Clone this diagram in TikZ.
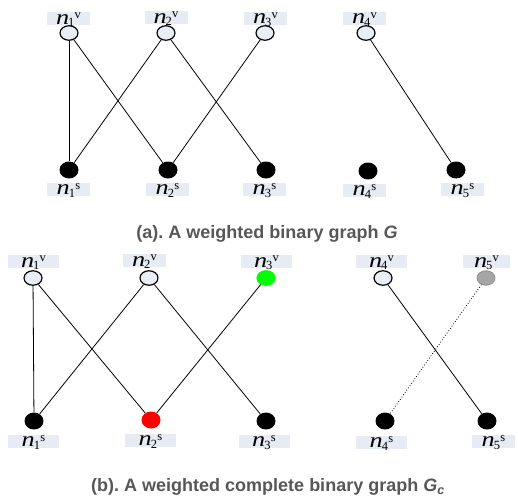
\documentclass[tikz,border=0pt]{standalone}
\usepackage{fontspec}
\usepackage{graphicx}
\setmainfont{Liberation Serif}
\newfontfamily\capfont{Liberation Sans}
\usetikzlibrary{shapes.geometric}
\frenchspacing
\definecolor{lblfill}{HTML}{E6EBF4}
\definecolor{vfill}{HTML}{E8EDF6}
\definecolor{capgray}{HTML}{575757}
% n_i^x label text: wide italic n, small upright index and type letter
\newcommand{\nlab}[2]{\raisebox{-5.5pt}[0pt][0pt]{%
  \scalebox{1.25}[1]{\fontsize{21}{21}\selectfont\itshape n}\hspace{-1pt}%
  {\fontsize{12.5}{12.5}\selectfont\raisebox{-2.5pt}{#1}\hspace{0.3pt}\raisebox{5.5pt}{#2}}}}
\tikzset{
  vnode/.style={ellipse,draw=black,line width=1.2pt,fill=vfill,minimum width=18pt,minimum height=14.5pt,inner sep=0pt},
  snode/.style={ellipse,fill=black,minimum width=19pt,minimum height=17pt,inner sep=0pt},
  gnode/.style={vnode,draw=green,fill=green},
  rnode/.style={snode,fill=red},
  greynode/.style={vnode,draw=gray!90,line width=0.8pt,fill=gray!70},
  lbox/.style={rectangle,fill=lblfill,minimum width=#1,minimum height=13pt,inner sep=0pt,text height=0pt,text depth=0pt},
  lbox/.default=43pt,
  edge/.style={draw=black,line width=0.8pt},
  dotedge/.style={draw=black,line width=0.8pt,dotted},
  caption/.style={text=capgray,font=\capfont\bfseries\fontsize{18}{20}\selectfont,inner sep=0pt}
}
\begin{document}
\begin{tikzpicture}[x=1pt,y=-1pt]
\useasboundingbox (0,0) rectangle (518,497);

% ---- (a) weighted binary graph G ----
\node[lbox] (av1l) at (68.5,19) {\nlab{1}{v}};
\node[lbox] (av2l) at (166,18) {\nlab{2}{v}};
\node[lbox] (av3l) at (265.5,18.5) {\nlab{3}{v}};
\node[lbox] (av4l) at (364.5,18.5) {\nlab{4}{v}};
\node[lbox] (as1l) at (68.5,189) {\nlab{1}{s}};
\node[lbox] (as2l) at (167.5,189) {\nlab{2}{s}};
\node[lbox] (as3l) at (264.5,189) {\nlab{3}{s}};
\node[lbox] (as4l) at (364.5,190) {\nlab{4}{s}};
\node[lbox] (as5l) at (462.5,189) {\nlab{5}{s}};

\node[vnode] (av1) at (69,33) {};
\node[vnode] (av2) at (166,33) {};
\node[vnode] (av3) at (265,33) {};
\node[vnode] (av4) at (366,33) {};
\node[snode] (as1) at (69,170) {};
\node[snode] (as2) at (168,170) {};
\node[snode] (as3) at (266,170) {};
\node[snode] (as4) at (368,171) {};
\node[snode] (as5) at (456,170) {};

\draw[edge] (av1) -- (as1);
\draw[edge] (av1) -- (as2);
\draw[edge] (av2) -- (as1);
\draw[edge] (av2) -- (as3);
\draw[edge] (av3) -- (as2);
\draw[edge] (av4) -- (as5);

\node[caption] (capa) at (267,234) {(a). A weighted binary graph \textit{G}};

% ---- (b) weighted complete binary graph G_c ----
\node[lbox=51pt] (bv1l) at (33.5,261.5) {\nlab{1}{v}};
\node[lbox=43pt] (bv2l) at (144.5,260.5) {\nlab{2}{v}};
\node[lbox=51pt] (bv3l) at (266.5,261.5) {\nlab{3}{v}};
\node[lbox=51pt] (bv4l) at (381.5,261.5) {\nlab{4}{v}};
\node[lbox=47pt] (bv5l) at (486.5,261.5) {\nlab{5}{v}};
\node[lbox=51pt] (bs1l) at (33.5,441) {\nlab{1}{s}};
\node[lbox=51pt] (bs2l) at (150.5,440) {\nlab{2}{s}};
\node[lbox=51pt] (bs3l) at (264,441) {\nlab{3}{s}};
\node[lbox=51pt] (bs4l) at (381.5,442) {\nlab{4}{s}};
\node[lbox=43pt] (bs5l) at (493.5,441) {\nlab{5}{s}};

\node[vnode] (bv1) at (33,278) {};
\node[vnode] (bv2) at (149,278) {};
\node[gnode] (bv3) at (266,278) {};
\node[vnode] (bv4) at (383,278) {};
\node[greynode] (bv5) at (486,278) {};
\node[snode] (bs1) at (34,421) {};
\node[rnode] (bs2) at (151,420) {};
\node[snode] (bs3) at (266,421) {};
\node[snode] (bs4) at (385,421) {};
\node[snode] (bs5) at (487,421) {};

\draw[edge] (bv1) -- (bs1);
\draw[edge] (bv1) -- (bs2);
\draw[edge] (bv2) -- (bs1);
\draw[edge] (bv2) -- (bs3);
\draw[edge] (bv3) -- (bs2);
\draw[edge] (bv4) -- (bs5);
\draw[dotedge] (bv5) -- (bs4);

\node[caption] (capb) at (268,487) {(b). A weighted complete binary graph \textit{G}\textsubscript{\textit{c}}};
\end{tikzpicture}
\end{document}
